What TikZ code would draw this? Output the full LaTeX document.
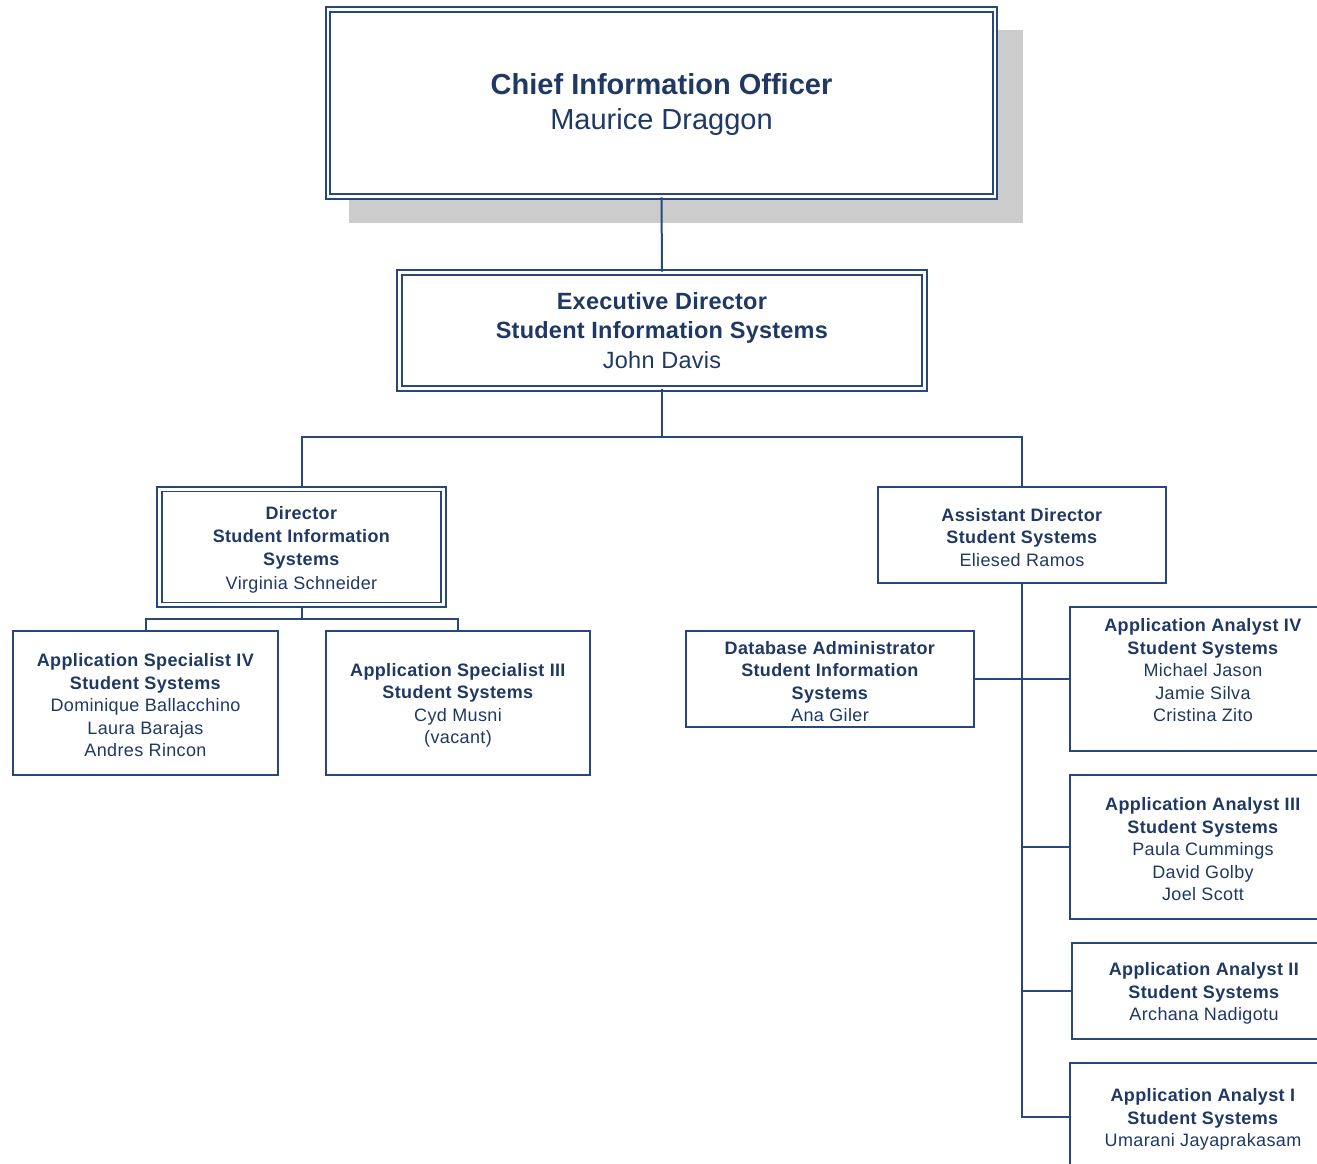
\documentclass[tikz,border=0pt]{standalone}
\usepackage{fontspec}
\setmainfont{Liberation Sans}
\usetikzlibrary{backgrounds}
\definecolor{lineblue}{RGB}{41,72,122}
\definecolor{textblue}{RGB}{31,56,100}
\definecolor{shadowgray}{RGB}{204,204,204}
\newcommand{\smallboxfont}{\fontsize{18}{22.5}\selectfont\addfontfeature{LetterSpace=2}}
\newcommand{\toppad}{\rule{0pt}{1.0em}}
\begin{document}
\begin{tikzpicture}[x=1pt,y=-1pt,
  box/.style={draw=lineblue, line width=2pt, fill=white, text=textblue, align=center, inner sep=0pt, font=\smallboxfont},
  dbox/.style={box, line width=1.7pt, double=white, double distance=2.8pt},
  conn/.style={draw=lineblue, line width=2pt}]
\path[use as bounding box] (0,0) rectangle (1317,1164);
\clip (0,0) rectangle (1317,1164);

% boxes
\node[dbox, minimum width=667pt, minimum height=187pt, font=\fontsize{29}{35}\selectfont] (cio) at (661.5,103)
  {\rule{0pt}{0.86em}\textbf{Chief Information Officer}\\Maurice Draggon};
\node[dbox, minimum width=525pt, minimum height=116pt, font=\fontsize{23.5}{29.5}\selectfont\addfontfeature{LetterSpace=1}] (exec) at (662,330.5)
  {\textbf{Executive Director}\\\textbf{Student Information Systems}\\John Davis};
\node[dbox, minimum width=284pt, minimum height=115.5pt, font=\smallboxfont\fontsize{18}{23.3}\selectfont] (dir) at (301.5,547)
  {\toppad\textbf{Director}\\\textbf{Student Information}\\\textbf{Systems}\\Virginia Schneider};
\node[box, minimum width=265pt, minimum height=144pt] (asp4) at (145.5,703)
  {\toppad\textbf{Application Specialist IV}\\\textbf{Student Systems}\\Dominique Ballacchino\\Laura Barajas\\Andres Rincon};
\node[box, minimum width=264pt, minimum height=144pt] (asp3) at (458,703)
  {\toppad\textbf{Application Specialist III}\\\textbf{Student Systems}\\Cyd Musni\\(vacant)};
\node[box, minimum width=288pt, minimum height=96pt] (asst) at (1022,535)
  {\toppad\textbf{Assistant Director}\\\textbf{Student Systems}\\Eliesed Ramos};
\node[box, minimum width=288pt, minimum height=96pt] (dba) at (830,679)
  {\toppad\textbf{Database Administrator}\\\textbf{Student Information}\\\textbf{Systems}\\Ana Giler};
\node[box, minimum width=266pt, minimum height=144pt] (aa4) at (1203,679)
  {\toppad\textbf{Application Analyst IV}\\\textbf{Student Systems}\\Michael Jason\\Jamie Silva\\Cristina Zito\\~};
\node[box, minimum width=266pt, minimum height=144pt] (aa3) at (1203,847)
  {\toppad\textbf{Application Analyst III}\\\textbf{Student Systems}\\Paula Cummings\\David Golby\\Joel Scott};
\node[box, minimum width=264pt, minimum height=96pt] (aa2) at (1204,991)
  {\toppad\textbf{Application Analyst II}\\\textbf{Student Systems}\\Archana Nadigotu};
\node[box, minimum width=266pt, minimum height=108pt] (aa1) at (1203,1117)
  {\toppad\textbf{Application Analyst I}\\\textbf{Student Systems}\\Umarani Jayaprakasam};

% connectors
\coordinate (bus1) at (662,437);
\coordinate (bus2) at (301.5,619);
\draw[conn] (cio.south) -- (exec.north);
\draw[conn] (exec.south) -- (bus1);
\draw[conn] (bus1) -| (dir.north);
\draw[conn] (bus1) -| (asst.north);
\draw[conn] (dir.south) -- (bus2);
\draw[conn] (bus2) -| (asp4.north);
\draw[conn] (bus2) -| (asp3.north);
\draw[conn] (asst.south) |- (aa1.west);
\draw[conn] (asst.south) |- (aa3.west);
\draw[conn] (asst.south) |- (aa2.west);
\draw[conn] (dba.east) -- (aa4.west);

\begin{scope}[on background layer]
  \fill[shadowgray] (349,30) rectangle (1023,223);
\end{scope}
\end{tikzpicture}
\end{document}
